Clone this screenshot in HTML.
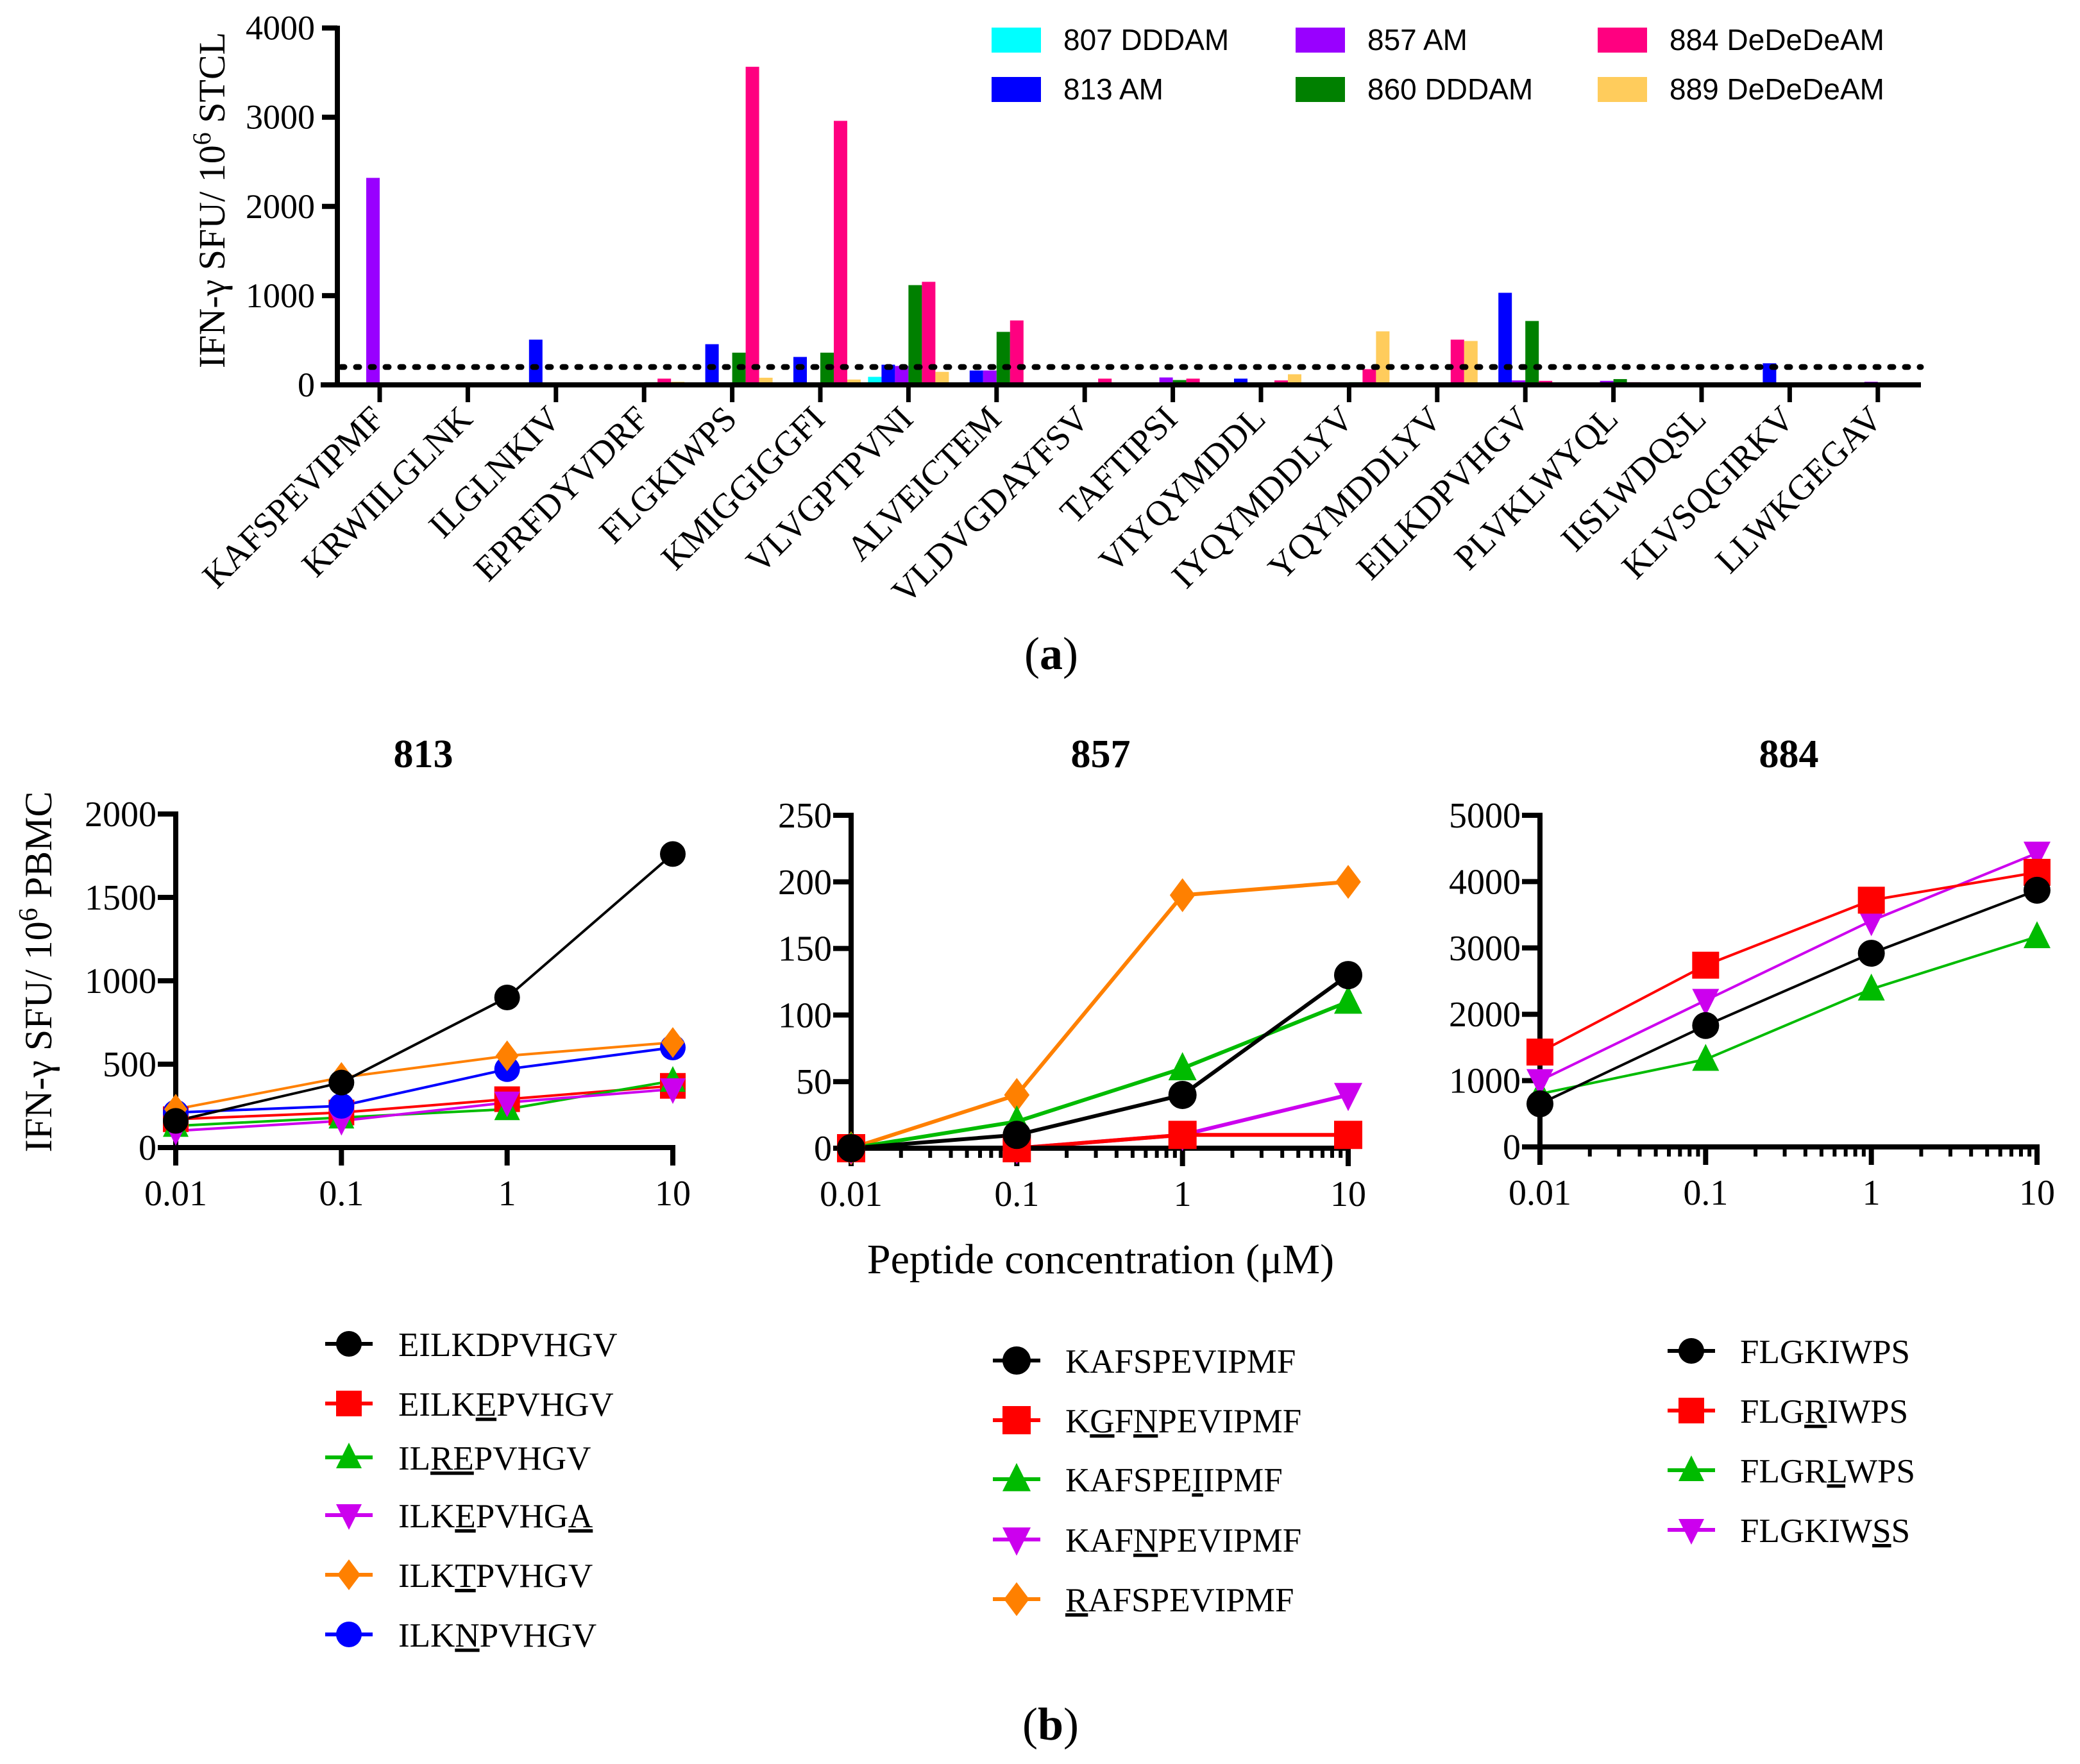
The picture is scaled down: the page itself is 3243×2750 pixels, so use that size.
<!DOCTYPE html>
<html><head><meta charset="utf-8">
<style>
html,body{margin:0;padding:0;background:#fff;}
svg{display:block;}
text{font-family:"Liberation Serif",serif;}
.u{text-decoration:underline;text-decoration-thickness:8px;text-underline-offset:10px;}
</style></head>
<body>
<svg id="fig" width="3243" height="2750" viewBox="0 0 3243 2750" xmlns="http://www.w3.org/2000/svg"></svg>
<script>
// ---------- Panel (a) data ----------
const peptides = ["KAFSPEVIPMF","KRWIILGLNK","ILGLNKIV","EPRFDYVDRF","FLGKIWPS","KMIGGIGGFI","VLVGPTPVNI","ALVEICTEM","VLDVGDAYFSV","TAFTIPSI","VIYQYMDDL","IYQYMDDLYV","YQYMDDLYV","EILKDPVHGV","PLVKLWYQL","IISLWDQSL","KLVSQGIRKV","LLWKGEGAV"];
const seriesNames = ["807 DDDAM","813 AM","857 AM","860 DDDAM","884 DeDeDeAM","889 DeDeDeAM"];
const v807 = [15,0,15,0,0,0,90,0,0,0,0,0,0,0,0,0,0,0];
const v813 = [20,0,507,0,456,313,226,161,0,0,70,0,0,1032,0,0,242,0];
const v857 = [2320,0,0,0,0,0,212,161,0,83,0,0,0,50,45,0,0,35];
const v860 = [0,20,0,30,361,361,1118,594,20,54,20,30,0,716,65,0,0,0];
const v884 = [0,0,0,70,3565,2959,1155,722,70,70,50,176,507,45,30,0,0,0];
const v889 = [0,0,15,35,80,60,146,20,0,15,119,600,492,0,0,0,0,0];
const threshold = 200;
const yTicksA = [0,1000,2000,3000,4000];

// ---------- Panel (b) data ----------
const conc = [0.01,0.1,1,10];
const xTickLabels = ["0.01","0.1","1","10"];
// 813
const p813_EILKDPVHGV = [160,390,900,1760];
const p813_EILKEPVHGV = [170,210,290,370];
const p813_ILREPVHGV = [130,180,230,400];
const p813_ILKEPVHGA = [100,160,270,350];
const p813_ILKTPVHGV = [230,420,550,630];
const p813_ILKNPVHGV = [210,250,470,600];
const yTicks813 = [0,500,1000,1500,2000];
// 857
const p857_KAFSPEVIPMF = [0,10,40,130];
const p857_KGFNPEVIPMF = [0,0,10,10];
const p857_KAFSPEIIPMF = [0,20,60,110];
const p857_KAFNPEVIPMF = [0,0,10,40];
const p857_RAFSPEVIPMF = [0,40,190,200];
const yTicks857 = [0,50,100,150,200,250];
// 884
const p884_FLGKIWPS = [650,1830,2920,3870];
const p884_FLGRIWPS = [1430,2740,3720,4140];
const p884_FLGRLWPS = [800,1320,2380,3170];
const p884_FLGKIWSS = [1000,2210,3410,4430];
const yTicks884 = [0,1000,2000,3000,4000,5000];

const NS="http://www.w3.org/2000/svg";
const svg=document.getElementById('fig');
function el(tag,attrs,parent){const e=document.createElementNS(NS,tag);for(const k in attrs)e.setAttribute(k,attrs[k]);(parent||svg).appendChild(e);return e;}

// ===== Panel (a) =====
const gA=el('g',{});


const aX0=526,aX1=2995,aY0=600,aPer=0.1391,aFirst=592,aStep=137.4,barW=21;
const ya=v=>aY0-v*aPer;
const xa=i=>aFirst+i*aStep;
const colors=["#00FFFF","#0000FF","#9900FF","#008000","#FF0080","#FFCC5C"];
const allSeries=[v807,v813,v857,v860,v884,v889];
allSeries.forEach((vals,s)=>{
  vals.forEach((v,i)=>{
    if(v<=0)return;
    const r=el('rect',{x:xa(i)-3*barW+s*barW,y:ya(v),width:barW,height:aY0-ya(v),fill:colors[s]},gA);
    
    
  });
});
// threshold dotted line
const thr=el('line',{x1:aX0+6,x2:aX1,y1:ya(threshold),y2:ya(threshold),stroke:'#000','stroke-width':9,'stroke-dasharray':'5 18','stroke-linecap':'round'},gA);


// axes
const yaxA=el('line',{x1:aX0,x2:aX0,y1:40,y2:aY0+4,stroke:'#000','stroke-width':8},gA);


const xaxA=el('line',{x1:aX0-26,x2:aX1,y1:aY0,y2:aY0,stroke:'#000','stroke-width':8},gA);


yTicksA.forEach(t=>{
  el('line',{x1:aX0-24,x2:aX0,y1:ya(t),y2:ya(t),stroke:'#000','stroke-width':8},gA);
  const tl=el('text',{x:491,y:ya(t)+18,'text-anchor':'end','font-size':54},gA);
  tl.textContent=t;
  
  
});
peptides.forEach((p,i)=>{
  el('line',{x1:xa(i),x2:xa(i),y1:aY0,y2:aY0+27,stroke:'#000','stroke-width':7},gA);
  const tl=el('text',{x:0,y:0,'text-anchor':'end','font-size':55,transform:`translate(${xa(i)+10},${656}) rotate(-45)`},gA);
  tl.textContent=p;
  
  
});
const ylabA=el('text',{x:0,y:0,'text-anchor':'middle','font-size':58,transform:'translate(350,312) rotate(-90)'},gA);
ylabA.innerHTML='IFN-γ SFU/ 10<tspan dy="-22" font-size="40">6</tspan><tspan dy="22"> STCL</tspan>';


// legend a
const legPos=[[1546,43],[1546,120],[2020,43],[2020,120],[2491,43],[2491,120]];
seriesNames.forEach((n,s)=>{
  const [lx,ly]=legPos[s];
  const g=el('g',{},gA);
  
  
  el('rect',{x:lx,y:ly,width:77,height:39,fill:colors[s]},g);
  const t=el('text',{x:lx+112,y:ly+35,'font-size':46,style:'font-family:"Liberation Sans",sans-serif'},g);
  t.textContent=n;
});
const labA=el('text',{x:1639,y:1043,'text-anchor':'middle','font-size':72},gA);
labA.innerHTML='(<tspan font-weight="bold">a</tspan>)';



// ===== Panel (b) helpers =====
function marker(g,shape,cx,cy,s,col){
  if(shape==='circle')return el('circle',{cx:cx,cy:cy,r:s,fill:col},g);
  if(shape==='square')return el('rect',{x:cx-s,y:cy-s,width:2*s,height:2*s,fill:col},g);
  if(shape==='up')return el('polygon',{points:`${cx},${cy-s*1.15} ${cx-s},${cy+s*0.85} ${cx+s},${cy+s*0.85}`,fill:col},g);
  if(shape==='down')return el('polygon',{points:`${cx},${cy+s*1.15} ${cx-s},${cy-s*0.85} ${cx+s},${cy-s*0.85}`,fill:col},g);
  if(shape==='diamond')return el('polygon',{points:`${cx},${cy-s*1.2} ${cx+s*0.9},${cy} ${cx},${cy+s*1.2} ${cx-s*0.9},${cy}`,fill:col},g);
}
function panel(cfg){
  const g=el('g',{});
  
  
  const {x0,x1,y0,yTop,ymax,ticks,minor}=cfg;
  const sx=v=>x0+(Math.log10(v)+2)/3*(x1-x0);
  const sy=v=>y0-v/ymax*(y0-yTop);
  cfg.series.forEach(s=>{
    const pts=s.vals.map((v,i)=>sx(conc[i])+','+sy(v)).join(' ');
    const pl=el('polyline',{points:pts,fill:'none',stroke:s.col,'stroke-width':cfg.lw},g);
    
    
  });
  // axes
  el('line',{x1:x0,x2:x0,y1:yTop-4,y2:y0+28,stroke:'#000','stroke-width':8},g);
  el('line',{x1:x0-28,x2:x1+4,y1:y0,y2:y0,stroke:'#000','stroke-width':8},g);
  ticks.forEach(t=>{
    el('line',{x1:x0-28,x2:x0,y1:sy(t),y2:sy(t),stroke:'#000','stroke-width':8},g);
    const tl=el('text',{x:x0-30,y:sy(t)+19,'text-anchor':'end','font-size':56},g);
    tl.textContent=t;
    
    
  });
  conc.forEach((c,i)=>{
    el('line',{x1:sx(c),x2:sx(c),y1:y0,y2:y0+28,stroke:'#000','stroke-width':8},g);
    const tl=el('text',{x:sx(c),y:y0+90,'text-anchor':'middle','font-size':56},g);
    tl.textContent=xTickLabels[i];
    
    
    if(minor&&i<3){for(let k=2;k<=9;k++){const mx=sx(c*k);el('line',{x1:mx,x2:mx,y1:y0,y2:y0+15,stroke:'#000','stroke-width':6},g);}}
  });
  cfg.series.forEach(s=>{
    s.vals.forEach((v,i)=>{
      const m=marker(g,s.shape,sx(conc[i]),sy(v),cfg.ms,s.col);
      
      
    });
  });
  const tt=el('text',{x:cfg.tx,y:1196,'text-anchor':'middle','font-size':62,'font-weight':'bold'},g);
  tt.textContent=cfg.title;
  
  
}
const BLK='#000',RED='#FF0000',GRN='#00BB00',MAG='#CC00EE',ORG='#FF8000',BLU='#0000FF';
panel({name:'panel-813',title:'813',tx:660,x0:274,x1:1049,y0:1789,yTop:1269,ymax:2000,ticks:yTicks813,minor:false,lw:4,ms:20,series:[
 {label:'EILKEPVHGV',vals:p813_EILKEPVHGV,col:RED,shape:'square'},
 {label:'ILREPVHGV',vals:p813_ILREPVHGV,col:GRN,shape:'up'},
 {label:'ILKEPVHGA',vals:p813_ILKEPVHGA,col:MAG,shape:'down'},
 {label:'ILKNPVHGV',vals:p813_ILKNPVHGV,col:BLU,shape:'circle'},
 {label:'ILKTPVHGV',vals:p813_ILKTPVHGV,col:ORG,shape:'diamond'},
 {label:'EILKDPVHGV',vals:p813_EILKDPVHGV,col:BLK,shape:'circle'}]});
panel({name:'panel-857',title:'857',tx:1716,x0:1327,x1:2102,y0:1790,yTop:1271,ymax:250,ticks:yTicks857,minor:true,lw:6,ms:22,series:[
 {label:'RAFSPEVIPMF',vals:p857_RAFSPEVIPMF,col:ORG,shape:'diamond'},
 {label:'KAFNPEVIPMF',vals:p857_KAFNPEVIPMF,col:MAG,shape:'down'},
 {label:'KAFSPEIIPMF',vals:p857_KAFSPEIIPMF,col:GRN,shape:'up'},
 {label:'KGFNPEVIPMF',vals:p857_KGFNPEVIPMF,col:RED,shape:'square'},
 {label:'KAFSPEVIPMF',vals:p857_KAFSPEVIPMF,col:BLK,shape:'circle'}]});
panel({name:'panel-884',title:'884',tx:2789,x0:2401,x1:3176,y0:1788,yTop:1271,ymax:5000,ticks:yTicks884,minor:true,lw:4,ms:21,series:[
 {label:'FLGRLWPS',vals:p884_FLGRLWPS,col:GRN,shape:'up'},
 {label:'FLGKIWSS',vals:p884_FLGKIWSS,col:MAG,shape:'down'},
 {label:'FLGRIWPS',vals:p884_FLGRIWPS,col:RED,shape:'square'},
 {label:'FLGKIWPS',vals:p884_FLGKIWPS,col:BLK,shape:'circle'}]});

const ylabB=el('text',{x:0,y:0,'text-anchor':'middle','font-size':60,transform:'translate(80,1515) rotate(-90)'});
ylabB.innerHTML='IFN-γ SFU/ 10<tspan dy="-22" font-size="42">6</tspan><tspan dy="22"> PBMC</tspan>';


const xlabB=el('text',{x:1716,y:1985,'text-anchor':'middle','font-size':66});
xlabB.textContent='Peptide concentration (μM)';



// legends (b)
function legend(name,lx,tx,rows,ms){
  const g=el('g',{});
  
  
  rows.forEach(r=>{
    const e=el('g',{},g);
    
    
    el('line',{x1:lx-37,x2:lx+37,y1:r.y,y2:r.y,stroke:r.col,'stroke-width':6},e);
    marker(e,r.shape,lx,r.y,ms,r.col);
    const t=el('text',{x:tx,y:r.y+19,'font-size':53},e);
    t.innerHTML=r.html;
  });
}
const U=s=>`<tspan class="u">${s}</tspan>`;
legend('legend-813',544,621,[
 {y:2095,col:BLK,shape:'circle',html:'EILKDPVHGV'},
 {y:2188,col:RED,shape:'square',html:'EILK'+U('E')+'PVHGV'},
 {y:2272,col:GRN,shape:'up',html:'IL'+U('RE')+'PVHGV'},
 {y:2362,col:MAG,shape:'down',html:'ILK'+U('E')+'PVHG'+U('A')},
 {y:2455,col:ORG,shape:'diamond',html:'ILK'+U('T')+'PVHGV'},
 {y:2548,col:BLU,shape:'circle',html:'ILK'+U('N')+'PVHGV'}],20);
legend('legend-857',1585,1661,[
 {y:2121,col:BLK,shape:'circle',html:'KAFSPEVIPMF'},
 {y:2214,col:RED,shape:'square',html:'K'+U('G')+'F'+U('N')+'PEVIPMF'},
 {y:2306,col:GRN,shape:'up',html:'KAFSPE'+U('I')+'IPMF'},
 {y:2400,col:MAG,shape:'down',html:'KAF'+U('N')+'PEVIPMF'},
 {y:2493,col:ORG,shape:'diamond',html:U('R')+'AFSPEVIPMF'}],22);
legend('legend-884',2637,2713,[
 {y:2106,col:BLK,shape:'circle',html:'FLGKIWPS'},
 {y:2199,col:RED,shape:'square',html:'FLG'+U('R')+'IWPS'},
 {y:2292,col:GRN,shape:'up',html:'FLGR'+U('L')+'WPS'},
 {y:2385,col:MAG,shape:'down',html:'FLGKIW'+U('S')+'S'}],20);

const labB=el('text',{x:1638,y:2712,'text-anchor':'middle','font-size':72});
labB.innerHTML='(<tspan font-weight="bold">b</tspan>)';


</script>
</body></html>
